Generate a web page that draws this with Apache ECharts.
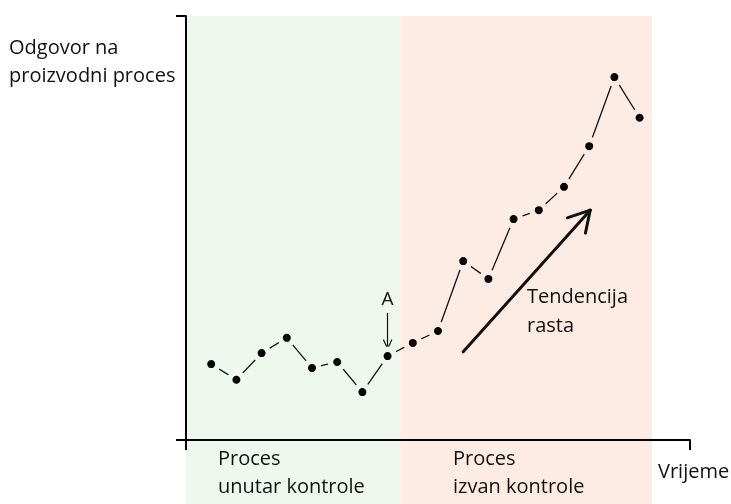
<!DOCTYPE html>
<html>
<head>
<meta charset="utf-8">
<script src="https://cdn.jsdelivr.net/npm/echarts@6/dist/echarts.min.js"></script>
<style>
  html, body { margin: 0; padding: 0; background: #fff; }
  #chart { width: 731px; height: 504px; }
</style>
</head>
<body>
<div id="chart"></div>
<script>
// time index of each measurement and the measured response
const timeIdx = [1, 2, 3, 4, 5, 6, 7, 8, 9, 10, 11, 12, 13, 14, 15, 16, 17, 18]
const response = [17.9, 14.2, 20.5, 24.1, 17.0, 18.4, 11.3, 19.8, 22.9, 25.7, 42.2, 38.0, 52.1, 54.2, 59.7, 69.3, 85.6, 76.0]

// process phases along the time axis
const controlStart = 0
const controlEnd = 8.5
const outOfControlEnd = 18.5

// axis ranges
const xRange = [0, 20]
const yRange = [0, 100]

// annotation: point A and trend arrow (data coordinates)
const arrowAFrom = [8, 30.0]
const arrowATo = [8, 21.5]
const arrowAHeadL = [7.84, 23.6]
const arrowAHeadR = [8.16, 23.6]
const trendFrom = [11.0, 20.8]
const trendTo = [16.04, 54.2]
const trendHeadL = [15.13, 52.4]
const trendHeadR = [15.85, 48.8]

const inColor = '#eff8ef'
const outColor = '#fdece4'
const ink = '#111'
const font = '"Open Sans", sans-serif'

const chart = echarts.init(document.getElementById('chart'))

const points = timeIdx.map((t, i) => ({
  value: [t, response[i]],
  itemStyle: { borderColor: t <= controlEnd ? inColor : outColor }
}))

const seg = (a, b, w) => [
  { coord: a, lineStyle: { width: w, color: ink, type: 'solid', cap: 'round' } },
  { coord: b }
]

const option = {
  animation: false,
  grid: { left: 186, right: 41, top: 16, bottom: 64, outerBoundsMode: 'none' },
  xAxis: {
    type: 'value',
    min: xRange[0],
    max: xRange[1],
    axisLine: { lineStyle: { color: '#000', width: 2 } },
    axisTick: { show: true, customValues: xRange, length: 10, lineStyle: { color: '#000', width: 2 } },
    axisLabel: { show: false },
    splitLine: { show: false }
  },
  yAxis: {
    type: 'value',
    min: yRange[0],
    max: yRange[1],
    axisLine: { show: true, lineStyle: { color: '#000', width: 2 } },
    axisTick: { show: true, customValues: yRange, length: 10, lineStyle: { color: '#000', width: 2 } },
    axisLabel: { show: false },
    splitLine: { show: false }
  },
  series: [
    {
      type: 'line',
      data: points,
      symbol: 'circle',
      symbolSize: 13.5,
      itemStyle: { color: '#000', borderWidth: 5.5 },
      lineStyle: { color: ink, width: 1.3 },
      emphasis: { disabled: true },
      z: 5,
      markLine: {
        silent: true,
        symbol: ['none', 'none'],
        label: { show: false },
        emphasis: { disabled: true },
        data: [
          [
            { coord: arrowAFrom, lineStyle: { width: 1.2, color: ink, type: 'solid' },
              label: { show: true, position: 'start', formatter: 'A', fontFamily: font, fontSize: 19, color: '#111', distance: 4 } },
            { coord: arrowATo }
          ],
          seg(arrowAHeadL, arrowATo, 1.2),
          seg(arrowAHeadR, arrowATo, 1.2),
          seg(trendFrom, trendTo, 3),
          seg(trendHeadL, trendTo, 3),
          seg(trendHeadR, trendTo, 3)
        ]
      }
    }
  ]
}
chart.setOption(option)

// background bands for the two process phases, placed through the axes
const px = x => chart.convertToPixel({ gridIndex: 0 }, [x, yRange[1]])
const bandTop = px(controlStart)[1]
const x0 = px(controlStart)[0]
const x1 = px(controlEnd)[0]
const x2 = px(outOfControlEnd)[0]

const txt = (x, y, text, lh) => ({
  type: 'text', x: x, y: y, z: 10,
  style: { text: text, font: '20px ' + font, fill: '#111', lineHeight: lh || 28 }
})

chart.setOption({
  graphic: [
    { type: 'rect', z: -10, shape: { x: x0, y: bandTop, width: x1 - x0, height: 504 - bandTop }, style: { fill: inColor } },
    { type: 'rect', z: -10, shape: { x: x1, y: bandTop, width: x2 - x1, height: 504 - bandTop }, style: { fill: outColor } },
    txt(9, 34, 'Odgovor na\nproizvodni proces'),
    txt(218, 445, 'Proces\nunutar kontrole'),
    txt(453, 445, 'Proces\nizvan kontrole'),
    txt(658, 458, 'Vrijeme'),
    txt(527, 283, 'Tendencija\nrasta', 29)
  ]
})
</script>
</body>
</html>
